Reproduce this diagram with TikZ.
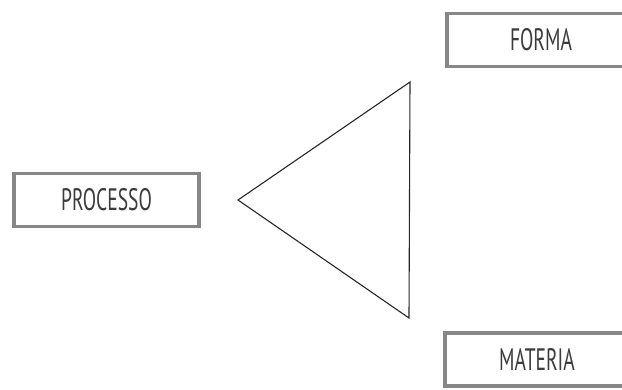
\documentclass[tikz,border=0pt]{standalone}
\usepackage{fontspec}
\setmainfont{PT Sans}[FakeStretch=0.63]
\usepackage{tikz}
\usetikzlibrary{positioning,calc}
\definecolor{FrameGray}{RGB}{135,135,135}
\definecolor{InkGray}{RGB}{60,60,60}
\tikzset{
  term/.style={draw=FrameGray,line width=3.4pt,fill=white,minimum height=53pt,
    inner sep=0pt,font=\fontsize{31pt}{33pt}\selectfont,text=InkGray},
  side/.style={draw=black!85,line width=1.1pt,line join=miter},
}

\begin{document}
\begin{tikzpicture}[x=1pt,y=-1pt]
\useasboundingbox (0,0) rectangle (622,389);
\node[term,minimum width=185pt] (processo) at (106.5,200) {PROCESSO};
\node[term,minimum width=188pt] (forma) at (541,40) {FORMA};
\node[term,minimum width=184pt] (materia) at (537,359.5) {MATERIA};
\coordinate (t1) at (238,200);
\coordinate (t2) at (410,82);
\coordinate (t3) at (409,318);
\draw[side] (t1)--(t2)--(t3)--cycle;
\end{tikzpicture}
\end{document}
